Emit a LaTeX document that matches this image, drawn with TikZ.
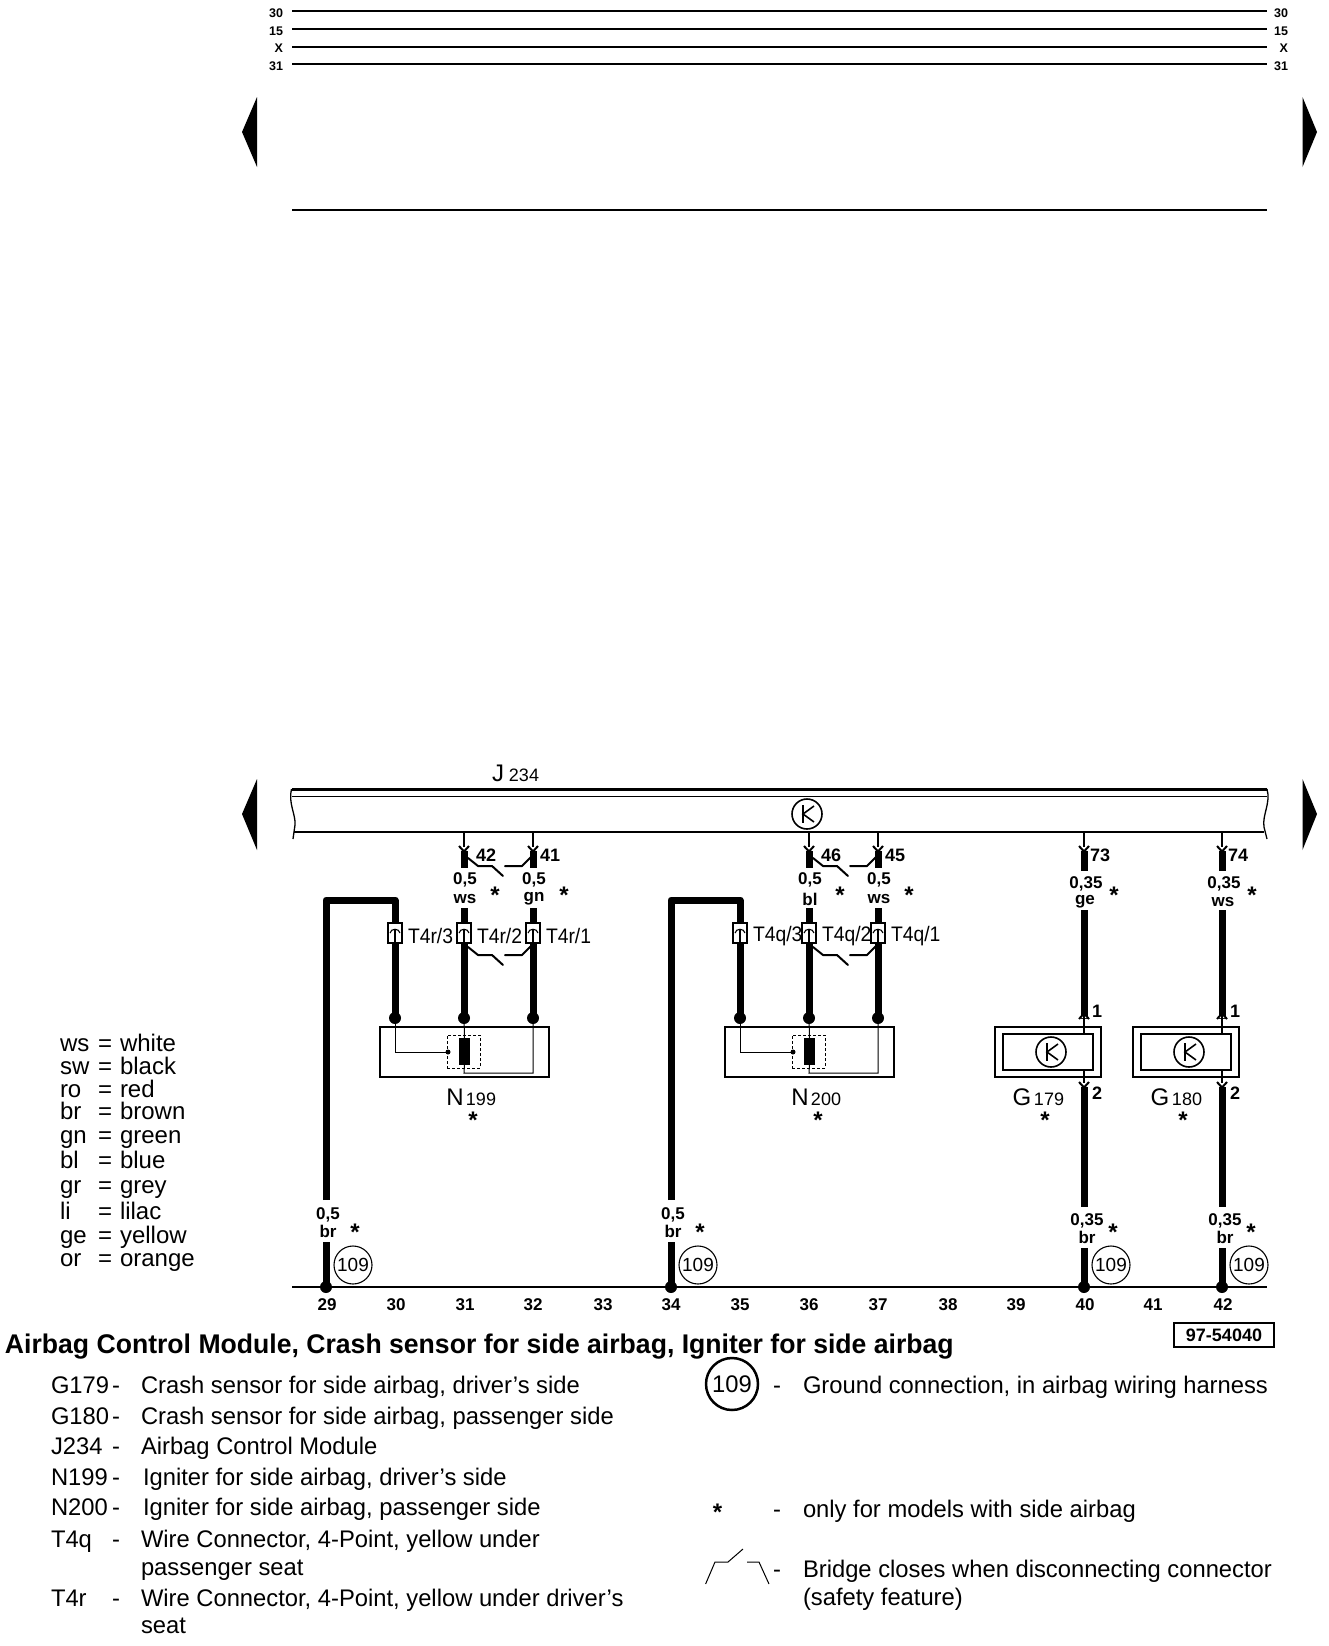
\documentclass[tikz,border=0pt]{standalone}
\usepackage{fontspec}
\setmainfont{Liberation Sans}
\newfontfamily\bodyf[FakeStretch=0.99]{Liberation Sans}
\newfontfamily\titlef[FakeStretch=0.985]{Liberation Sans Bold}
\newfontfamily\narrowf[FakeStretch=0.92]{Liberation Sans}
\newcommand{\fs}[1]{\fontsize{#1}{#1}\selectfont}
\tikzset{
  every node/.style={inner sep=0pt,outer sep=0pt,text=black},
  wire/.style={line width=7pt,line cap=butt},
  thin wire/.style={line width=1.1pt},
  bridge/.style={line width=2pt,line cap=round,line join=round},
  small num/.style={font=\fs{12.5}\bfseries},
  gauge/.style={font=\fs{17}\bfseries},
  pin num/.style={font=\fs{18}\bfseries,anchor=west},
  col num/.style={font=\fs{17}\bfseries},
  conn lbl/.style={font=\narrowf\fs{21},anchor=west},
  starmark/.style={font=\fs{24}\bfseries,yshift=-3pt},
  body/.style={font=\bodyf\fs{24},anchor=base west},
  legend/.style={font=\fs{24},anchor=base west},
  big/.style={font=\fs{24}},
  sub/.style={font=\fs{18}},
  ground/.style={circle,draw,line width=1.1pt,minimum size=38pt,font=\fs{19}},
  kring/.style={circle,draw,line width=1.6pt,minimum size=30pt},
  dotnode/.style={circle,fill=black,minimum size=#1},
  connbox/.style={draw,fill=white,line width=1.1pt,minimum width=14pt,minimum height=20pt},
}
\newcommand{\ksym}[3]{%
  \node[kring] (#1) at (#2,#3) {};
  \draw[line width=1.6pt] ([xshift=-4pt,yshift=9pt]#1.center) -- ([xshift=-4pt,yshift=-9pt]#1.center);
  \draw[line width=1.6pt] ([xshift=7pt,yshift=8pt]#1.center) -- ([xshift=-4pt,yshift=0pt]#1.center) -- ([xshift=7pt,yshift=-8pt]#1.center);
}
\newcommand{\yend}[3]{%
  \fill[white] (#1-3.5,#2-#3*5) -- (#1,#2) -- (#1+3.5,#2-#3*5) -- cycle;
  \draw[line width=2pt] (#1-5,#2-#3*6) -- (#1,#2-#3*0.5) -- (#1+5,#2-#3*6);
}
\newcommand{\plug}[2]{%
  \node[connbox] (#1) at (#2,933) {};
  \draw[line width=1.1pt] (#2-5,933) .. controls (#2-4,928) and (#2+4,928) .. (#2+5,933);
  \draw[line width=1.1pt] (#2,929) -- (#2,943);
}
\newcommand{\bridgepair}[3]{%
  \draw[bridge] (#1+4,#3-8) -- (#1+14,#3) -- (#1+28,#3) -- (#1+39,#3+10);
  \draw[bridge] (#2-28,#3) -- (#2-11,#3) -- (#2,#3-11);
}
\newcommand{\igniter}[9]{%
  \begin{scope}[xshift=#1pt]
    \coordinate (#9busL) at (464,832);
    \coordinate (#9busR) at (533,832);
    \coordinate (#9stubL) at (464,851);
    \coordinate (#9stubR) at (533,851);
    \coordinate (#9endL) at (464,868);
    \coordinate (#9endR) at (533,868);
    \coordinate (#9midL) at (464,908);
    \coordinate (#9midR) at (533,908);
    \coordinate (#9corner1) at (326,900);
    \coordinate (#9corner2) at (395,900);
    \coordinate (#9gnd) at (326,1287);
    \node[dotnode=12pt] (#9dA) at (395,1018) {};
    \node[dotnode=12pt] (#9dB) at (464,1018) {};
    \node[dotnode=12pt] (#9dC) at (533,1018) {};
    \draw[thin wire] (#9busL) -- (#9stubL);
    \draw[thin wire] (#9busR) -- (#9stubR);
    \draw[wire] (#9stubL) -- (#9endL);
    \draw[wire] (#9stubR) -- (#9endR);
    \yend{464}{852}{1}
    \yend{533}{852}{1}
    \draw[wire] (#9midL) -- (#9dB.center);
    \draw[wire] (#9midR) -- (#9dC.center);
    \draw[wire,line join=round] (326,1200) -- (#9corner1) -- (#9corner2) -- (#9dA.center);
    \plug{#9pA}{395}
    \plug{#9pB}{464}
    \plug{#9pC}{533}
    \bridgepair{464}{533}{866}
    \bridgepair{464}{533}{955}
    \node[pin num] (#9pn1) at (476,855) {#2};
    \node[pin num] (#9pn2) at (540,855) {#3};
    \node[gauge] (#9g1) at (465,880) {0,5};
    \node[gauge] (#9g2) at (534,880) {0,5};
    \node[gauge] (#9c1) at (465,899) {#4};
    \node[gauge] (#9c2) at (534,899) {#5};
    \node[starmark] (#9s1) at (495,892) {*};
    \node[starmark] (#9s2) at (564,892) {*};
    \node[conn lbl] (#9t3) at (408,936) {T4#6/3};
    \node[conn lbl] (#9t2) at (477,936) {T4#6/2};
    \node[conn lbl] (#9t1) at (546,936) {T4#6/1};
    \node[draw,line width=1.5pt,minimum width=169pt,minimum height=50pt] (#9box) at (464.5,1052) {};
    \node[draw,densely dashed,line width=1pt,minimum width=33pt,minimum height=33pt] (#9dash) at (463.5,1051.5) {};
    \node[fill=black,minimum width=11pt,minimum height=27pt] (#9bar) at (464.5,1051.5) {};
    \node[dotnode=5pt] (#9dot) at (448,1052) {};
    \coordinate (#9low) at (464,1073);
    \coordinate (#9low2) at (533,1073);
    \draw[line width=1pt] (#9dA.center) |- (#9dot.center);
    \draw[line width=1pt] (#9dB.center) -- (#9bar.north);
    \draw[line width=1pt] (#9bar.south) -- (#9low) -- (#9low2) -- (#9dC.center);
    \node[big,anchor=base] (#9name) at (#7,1105) {N};
    \node[sub,anchor=base] (#9num) at (#7+26,1105) {#8};
    \node[starmark] (#9s3) at (473,1117) {*};
    \node[dotnode=12pt] (#9gd) at (#9gnd) {};
    \draw[wire] (326,1242) -- (#9gd.center);
    \node[gauge] (#9bg) at (328,1215) {0,5};
    \node[gauge] (#9bc) at (328,1231) {br};
    \node[starmark] (#9bs) at (355,1229) {*};
    \node[ground] (#9gc) at (353,1265) {109};
  \end{scope}
}
\newcommand{\sensor}[5]{%
  \begin{scope}[xshift=#1pt]
    \coordinate (#5bus) at (0,832);
    \coordinate (#5st) at (0,851);
    \coordinate (#5en) at (0,871);
    \coordinate (#5mid) at (0,910);
    \coordinate (#5up) at (0,1014);
    \coordinate (#5in) at (0,1034);
    \coordinate (#5out) at (0,1070);
    \coordinate (#5dn) at (0,1087);
    \coordinate (#5lo) at (0,1207);
    \coordinate (#5lo2) at (0,1248);
    \draw[thin wire] (#5bus) -- (#5st);
    \draw[wire] (#5st) -- (#5en);
    \yend{0}{852}{1}
    \draw[wire] (#5mid) -- (0,1019);
    \yend{0}{1013}{-1}
    \draw[thin wire] (#5up) -- (#5in);
    \draw[thin wire] (#5out) -- (#5dn);
    \draw[wire] (#5dn) -- (#5lo);
    \yend{0}{1088}{1}
    \node[pin num] (#5pa) at (6,855) {#2};
    \node[gauge] (#5g) at (2,884) {0,35};
    \node[gauge] (#5c) at (1,902) {#3};
    \node[starmark] (#5s) at (30,892) {*};
    \node[draw,line width=2.2pt,minimum width=106pt,minimum height=50pt] (#5o) at (-36,1052) {};
    \node[draw,line width=2.2pt,minimum width=90pt,minimum height=36pt] (#5i) at (-36,1052) {};
    \ksym{#5k}{-33}{1052}
    \node[gauge,font=\fs{18}\bfseries,anchor=west] (#5p1) at (8,1011) {1};
    \node[gauge,font=\fs{18}\bfseries,anchor=west] (#5p2) at (8,1093) {2};
    \node[big,anchor=base] (#5G) at (-62,1105) {G};
    \node[sub,anchor=base] (#5N) at (-35,1105) {#4};
    \node[starmark] (#5s2) at (-39,1117) {*};
    \node[dotnode=12pt] (#5gd) at (0,1287) {};
    \draw[wire] (#5lo2) -- (#5gd.center);
    \node[gauge] (#5bg) at (3,1221) {0,35};
    \node[gauge] (#5bc) at (3,1237) {br};
    \node[starmark] (#5bs) at (29,1229) {*};
    \node[ground] (#5gc) at (27,1265) {109};
  \end{scope}
}
\begin{document}
\begin{tikzpicture}[x=1pt,y=-1pt]
\useasboundingbox (0,0) rectangle (1328,1646);
\fill[white] (0,0) rectangle (1328,1646);
\foreach \nm/\yy/\w/\ly in {30/11/2/13,15/29/2/31,X/47/1.2/48,31/64/2/66}{
  \coordinate (a\nm) at (292,\yy);
  \coordinate (b\nm) at (1267,\yy);
  \draw[line width=\w pt] (a\nm) -- (b\nm);
  \node[small num,anchor=east] (la\nm) at (283,\ly) {\nm};
  \node[small num,anchor=east] (lb\nm) at (1288,\ly) {\nm};
}
\coordinate (ra) at (292,210); \coordinate (rb) at (1267,210);
\draw[line width=2pt] (ra) -- (rb);
\fill (257,97) -- (242,132) -- (257,167) -- cycle;
\fill (1302.5,97) -- (1317,132) -- (1302.5,167) -- cycle;
\fill (257,779) -- (242,814) -- (257,850) -- cycle;
\fill (1302.5,779) -- (1317,814) -- (1302.5,850) -- cycle;
\coordinate (j1) at (292,789); \coordinate (j2) at (1267,789);
\coordinate (j3) at (292,796); \coordinate (j4) at (1267,796);
\coordinate (j5) at (294,832); \coordinate (j6) at (1264,832);
\draw[line width=3pt] (j1) -- (j2);
\draw[line width=1pt] (j3) -- (j4);
\draw[line width=2pt] (j5) -- (j6);
\draw[line width=1.3pt] (291.5,789) .. controls (288,803) and (296,815) .. (295,825) -- (293,839);
\draw[line width=1.3pt] (1267,789) .. controls (1271,803) and (1262,815) .. (1264,827) -- (1267,839);
\node[big,anchor=base] (Jl) at (498,781) {J};
\node[sub,anchor=base] (Jn) at (524,781) {234};
\ksym{Jk}{807}{814}
\igniter{0}{42}{41}{ws}{gn}{r}{455}{199}{A}
\igniter{345}{46}{45}{bl}{ws}{q}{455}{200}{B}
\sensor{1084}{73}{ge}{179}{C}
\sensor{1222}{74}{ws}{180}{D}
\coordinate (g1) at (292,1287); \coordinate (g2) at (1267,1287);
\draw[line width=2pt] (g1) -- (g2);
\foreach \n/\xx in {29/327,30/396,31/465,32/533,33/603,34/671,35/740,36/809,37/878,38/948,39/1016,40/1085,41/1153,42/1223}
  \node[col num] (col\n) at (\xx,1305) {\n};
\node[draw,line width=1.3pt,minimum width=100pt,minimum height=24pt,font=\fs{18}\bfseries] (code) at (1224,1335) {97-54040};
\node[font=\titlef\fs{27},anchor=base west] (title) at (5,1353) {Airbag Control Module, Crash sensor for side airbag, Igniter for side airbag};
\foreach \c/\v/\yy in {ws/white/1051,sw/black/1074,ro/red/1097,br/brown/1119,gn/green/1143,bl/blue/1168,gr/grey/1193,li/lilac/1219,ge/yellow/1243,or/orange/1266}{
  \node[legend] (lc\c) at (60,\yy) {\c};
  \node[legend] (le\c) at (98,\yy) {=};
  \node[legend] (lv\c) at (120,\yy) {\v};
}
\foreach \c/\t/\yy/\xt in {G179/Crash sensor for side airbag{,} driver’s side/1393/141,G180/Crash sensor for side airbag{,} passenger side/1424/141,J234/Airbag Control Module/1454/141,N199/Igniter for side airbag{,} driver’s side/1485/143,N200/Igniter for side airbag{,} passenger side/1515/143,T4q/Wire Connector{,} 4-Point{,} yellow under/1547/141,T4r/Wire Connector{,} 4-Point{,} yellow under driver’s/1606/141}{
  \node[body] (c\c) at (51,\yy) {\c};
  \node[body] (d\c) at (112,\yy) {-};
  \node[body] (t\c) at (\xt,\yy) {\t};
}
\node[body] (t4qb) at (141,1575) {passenger seat};
\node[body] (t4rb) at (141,1633) {seat};
\node[circle,draw,line width=2.5pt,minimum size=52pt,font=\bodyf\fs{24}] (bigg) at (732,1384) {109};
\node[body] (r1d) at (773,1393) {-};
\node[body] (r1) at (803,1393) {Ground connection, in airbag wiring harness};
\node[starmark] (r2s) at (717.5,1509) {*};
\node[body] (r2d) at (773,1517) {-};
\node[body] (r2) at (803,1517) {only for models with side airbag};
\draw[line width=1pt] (705.6,1584) -- (715,1562) -- (728,1562) -- (743,1549);
\draw[line width=1pt] (747,1562) -- (759,1562) -- (769,1584);
\node[body] (r3d) at (773,1577) {-};
\node[body] (r3) at (803,1577) {Bridge closes when disconnecting connector};
\node[body] (r4) at (803,1605) {(safety feature)};
\end{tikzpicture}
\end{document}
